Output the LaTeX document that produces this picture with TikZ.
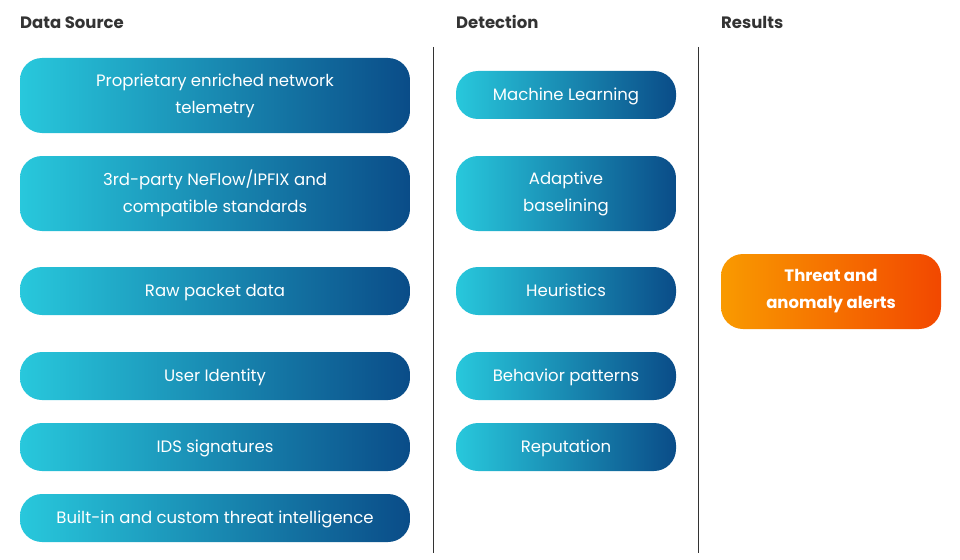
\documentclass[tikz,border=0pt]{standalone}
\usepackage{fontspec}
\setmainfont{Poppins}
\usepackage{tikz}
\definecolor{cyanL}{HTML}{28C8DC}
\definecolor{blueR}{HTML}{0A4C88}
\definecolor{orangeL}{HTML}{F99A00}
\definecolor{orangeR}{HTML}{F24800}
\definecolor{headgray}{HTML}{333333}
\tikzset{
  pill/.style={rectangle,rounded corners=22pt,left color=cyanL,right color=blueR,
    text=white,align=center,inner sep=0pt,font=\fontsize{16.5}{27}\selectfont},
  oneline/.style={minimum height=48pt,text height=11.5pt,text depth=0pt},
  twoline/.style={minimum height=75pt},
  srcbox/.style={pill,minimum width=390pt},
  detbox/.style={pill,minimum width=220pt},
  resbox/.style={pill,minimum width=220pt,left color=orangeL,right color=orangeR,
    font=\fontsize{16.5}{27}\selectfont\bfseries},
  head/.style={anchor=base west,inner sep=0pt,text=headgray,font=\fontsize{16.5}{18}\selectfont\bfseries},
  sep/.style={headgray,line width=1pt}
}
\begin{document}
\begin{tikzpicture}[x=1pt,y=-1pt]
  \useasboundingbox (0,0) rectangle (960,559);
  % column heads
  \node[head] (hsrc) at (20,28.5) {Data Source};
  \node[head] (hdet) at (456,28.5) {Detection};
  \node[head] (hres) at (721,28.5) {Results};
  % separators
  \draw[sep] (433,47) -- (433,553);
  \draw[sep] (698,47) -- (698,553);
  % data sources
  \node[srcbox,twoline] (s1) at (215,95.5) {Proprietary enriched network\\telemetry};
  \node[srcbox,twoline] (s2) at (215,193.5) {3rd-party NeFlow/IPFIX and\\compatible standards};
  \node[srcbox,oneline] (s3) at (215,291) {Raw packet data};
  \node[srcbox,oneline] (s4) at (215,376) {User Identity};
  \node[srcbox,oneline] (s5) at (215,447) {IDS signatures};
  \node[srcbox,oneline] (s6) at (215,518) {Built-in and custom threat intelligence};
  % detection
  \node[detbox,oneline] (d1) at (566,95) {Machine Learning};
  \node[detbox,twoline] (d2) at (566,193.5) {Adaptive\\baselining};
  \node[detbox,oneline] (d3) at (566,291) {Heuristics};
  \node[detbox,oneline] (d4) at (566,376) {Behavior patterns};
  \node[detbox,oneline] (d5) at (566,447) {Reputation};
  % results
  \node[resbox,twoline] (r1) at (831,291.5) {Threat and\\anomaly alerts};
\end{tikzpicture}
\end{document}
